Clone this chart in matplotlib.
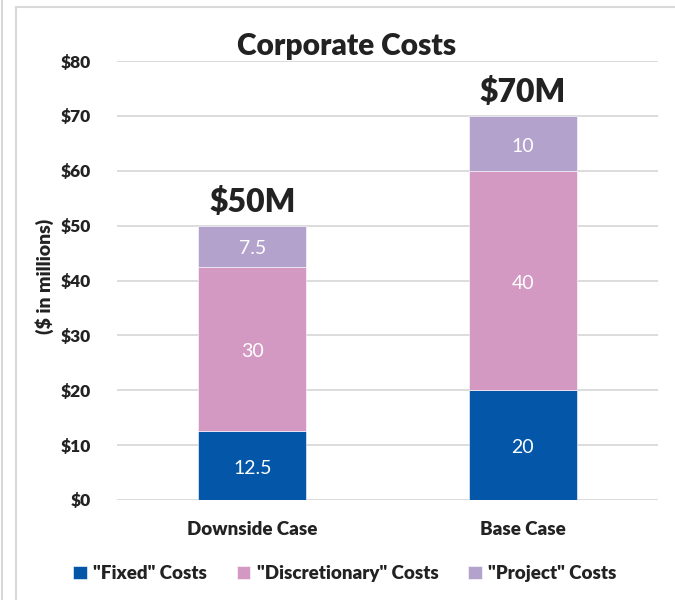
import matplotlib

matplotlib.use("Agg")
import matplotlib.pyplot as plt
from matplotlib.lines import Line2D

plt.rcParams["font.family"] = ["Lato", "DejaVu Sans"]

CASES = ["Downside Case", "Base Case"]
FIXED = [12.5, 20]
DISCRETIONARY = [30, 40]
PROJECT = [7.5, 10]
TOTAL_LABELS = ["$50M", "$70M"]
SERIES = ['"Fixed" Costs', '"Discretionary" Costs', '"Project" Costs']
YTICKS = [0, 10, 20, 30, 40, 50, 60, 70, 80]

COLORS = ["#0457a8", "#d499c2", "#b3a2cc"]
TEXT = "#222222"
W = "heavy"

fig = plt.figure(figsize=(6.75, 6.0), dpi=100)
ax = fig.add_axes([0.1733, 0.1667, 0.8015, 0.7316])

x = list(range(len(CASES)))
bottom = [0.0] * len(CASES)
for vals, color, name in zip([FIXED, DISCRETIONARY, PROJECT], COLORS, SERIES):
    ax.bar(x, vals, width=0.4, bottom=bottom, color=color, label=name,
           zorder=3, edgecolor="white", linewidth=0.4)
    for xi, v, b in zip(x, vals, bottom):
        ax.text(xi, b + v / 2 - 0.5, f"{v:g}", ha="center", va="center",
                color="white", fontsize=14, zorder=4)
    bottom = [b + v for b, v in zip(bottom, vals)]

for xi, tot, lab in zip(x, bottom, TOTAL_LABELS):
    ax.text(xi, tot + 1.6, lab, ha="center", va="bottom", fontsize=23,
            fontweight=W, color=TEXT)

ax.set_xlim(-0.5, 1.5)
ax.set_ylim(0, 80)
ax.set_yticks(YTICKS)
ax.set_yticklabels([f"${t}" for t in YTICKS], fontsize=12.5, fontweight=W, color=TEXT)
ax.set_xticks(x)
ax.set_xticklabels(CASES, fontsize=13.5, fontweight=W, color=TEXT)
ax.tick_params(axis="both", length=0)
ax.tick_params(axis="y", pad=19)
ax.tick_params(axis="x", pad=15)
ax.grid(axis="y", color="#d9d9d9", linewidth=1.3, zorder=0)
for s in ax.spines.values():
    s.set_visible(False)
ax.set_ylabel("($ in millions)", fontsize=14, fontweight=W, color=TEXT)
ax.yaxis.set_label_coords(-0.117, 0.51)

fig.text(0.514, 0.923, "Corporate Costs", ha="center", va="center", fontsize=21.5,
         fontweight=W, color=TEXT)

leg = fig.legend(loc="center", bbox_to_anchor=(0.511, 0.044), ncol=3, frameon=False,
                 handlelength=0.7, handleheight=0.7, handletextpad=0.35, columnspacing=1.6,
                 prop={"size": 13.5, "weight": W})
for t in leg.get_texts():
    t.set_color(TEXT)

# outer frame lines
fig.add_artist(Line2D([0.003, 0.003], [0, 1], color="#d0d0d0", linewidth=1.2))
fig.add_artist(Line2D([0.023, 0.023], [0, 0.989], color="#d9d9d9", linewidth=1.5))
fig.add_artist(Line2D([0.023, 1.0], [0.989, 0.989], color="#d9d9d9", linewidth=1.5))

fig.savefig("out.png", dpi=100)
